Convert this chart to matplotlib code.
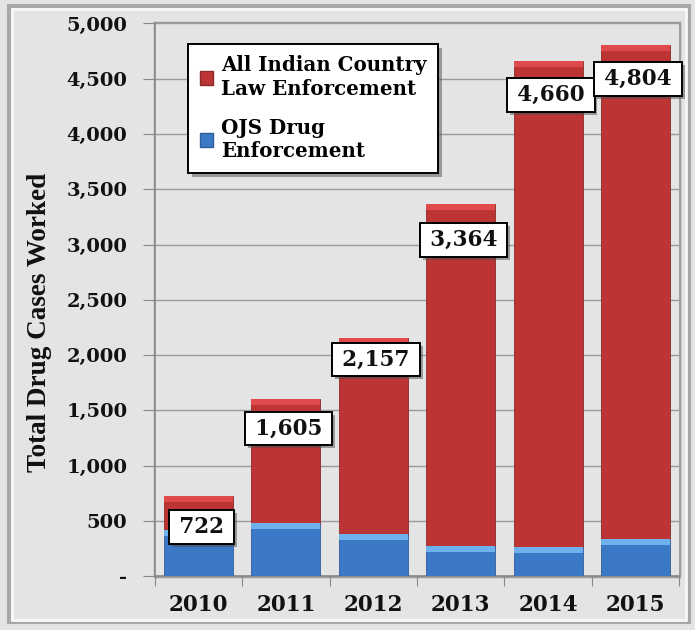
import matplotlib
matplotlib.use("Agg")
import matplotlib.pyplot as plt
from matplotlib.patches import Rectangle, Patch
from matplotlib.ticker import FuncFormatter, MultipleLocator
import matplotlib.patheffects as pe

years = ["2010", "2011", "2012", "2013", "2014", "2015"]
totals = [722, 1605, 2157, 3364, 4660, 4804]
ojs = [415, 483, 380, 275, 266, 332]
other = [t - o for t, o in zip(totals, ojs)]
series_names = ["All Indian Country\nLaw Enforcement", "OJS Drug\nEnforcement"]

RED = "#bc3434"
RED_CAP = "#e04a4a"
BLUE = "#3b79c6"
BLUE_CAP = "#6db2ee"
BG = "#e4e4e4"

fig = plt.figure(figsize=(6.95, 6.3), dpi=100)
fig.patch.set_facecolor(BG)
# outer bevel frame
fig.add_artist(Rectangle((0.013, 0.012), 0.978, 0.978, transform=fig.transFigure,
                         fill=False, edgecolor="#a8a8a8", linewidth=3))
fig.add_artist(Rectangle((0.017, 0.016), 0.970, 0.970, transform=fig.transFigure,
                         fill=False, edgecolor="#f8f8f8", linewidth=2))

ax = fig.add_axes([0.223, 0.0857, 0.754, 0.877])
ax.set_facecolor(BG)
x = list(range(len(years)))
w = 0.79
cap = 55

ax.bar(x, ojs, width=w, color=BLUE, edgecolor="#2f5f9c", linewidth=0.6, zorder=3)
ax.bar(x, [cap] * len(x), bottom=[o - cap for o in ojs], width=w, color=BLUE_CAP,
       linewidth=0, zorder=4)
ax.bar(x, other, bottom=ojs, width=w, color=RED, edgecolor="#8e2a2a", linewidth=0.6, zorder=3)
ax.bar(x, [cap] * len(x), bottom=[t - cap for t in totals], width=w, color=RED_CAP,
       linewidth=0, zorder=4)

ax.set_xlim(-0.5, len(years) - 0.5)
ax.set_ylim(0, 5000)
ax.yaxis.set_major_locator(MultipleLocator(500))
ax.yaxis.set_major_formatter(FuncFormatter(lambda v, p: "-" if v == 0 else f"{int(v):,}"))
ax.grid(axis="y", color="#9a9a9a", linewidth=1.0, zorder=0)
ax.set_axisbelow(True)

ax.set_xticks([i - 0.5 for i in range(len(years) + 1)], minor=False)
ax.set_xticklabels([""] * (len(years) + 1))
ax.set_xticks(x, minor=True)
ax.set_xticklabels(years, minor=True)
ax.tick_params(axis="x", which="minor", length=0, pad=13)
ax.tick_params(axis="x", which="major", length=7, color="#888888", direction="out")
ax.tick_params(axis="y", length=9, color="#888888", direction="out", pad=11)

for lab in ax.get_xticklabels(minor=True):
    lab.set_fontfamily("DejaVu Serif")
    lab.set_fontweight("bold")
    lab.set_fontsize(15.5)
    lab.set_color("#111111")
for lab in ax.get_yticklabels():
    lab.set_fontfamily("DejaVu Serif")
    lab.set_fontweight("bold")
    lab.set_fontsize(14)
    lab.set_color("#111111")

for s in ["top", "right"]:
    ax.spines[s].set_visible(False)
ax.spines["left"].set_color("#888888")
ax.spines["bottom"].set_color("#888888")
ax.spines["left"].set_linewidth(1.2)
ax.spines["bottom"].set_linewidth(1.2)
# plot area bevel frame
fig.add_artist(Rectangle((0.223, 0.0857), 0.754, 0.877, transform=fig.transFigure,
                         fill=False, edgecolor="#9c9c9c", linewidth=2.5, zorder=0))

fig.text(40 / 695, 1 - 322 / 630, "Total Drug Cases Worked", rotation=90,
         ha="center", va="center", fontfamily="Liberation Serif", fontweight="bold",
         fontsize=19.5, color="#111111")

label_drop = [31, 30, 22, 36, 34, 34]  # pixels below bar top
for i, t in enumerate(totals):
    ax.annotate(f"\u2009{t:,}\u2009", xy=(i, t), xytext=(2, -label_drop[i] * 0.72),
                textcoords="offset points", ha="center", va="center",
                fontfamily="DejaVu Serif", fontweight="bold", fontsize=15.5, color="#111111",
                zorder=6,
                bbox=dict(boxstyle="square,pad=0.27", facecolor="white", edgecolor="black",
                          linewidth=1.4,
                          path_effects=[pe.withSimplePatchShadow(offset=(2, -2), alpha=0.5)]))

# legend
handles = [Patch(facecolor=RED, edgecolor="#8e2a2a"), Patch(facecolor=BLUE, edgecolor="#2f5f9c")]
leg = ax.legend(handles, series_names, loc="upper left",
                bbox_to_anchor=((188 - 155) / 524, (576 - 44) / 552),
                frameon=True, fancybox=False, edgecolor="black", framealpha=1,
                prop=dict(family="DejaVu Serif", weight="bold", size=14.3),
                handlelength=0.65, handleheight=0.65, handletextpad=0.4,
                labelspacing=0.95, borderpad=0.6, borderaxespad=0)
leg.get_frame().set_linewidth(1.4)
leg.get_frame().set_path_effects([pe.withSimplePatchShadow(offset=(3, -3), alpha=0.5)])
leg.set_zorder(7)

fig.savefig("out.png", dpi=100, facecolor=fig.get_facecolor())
